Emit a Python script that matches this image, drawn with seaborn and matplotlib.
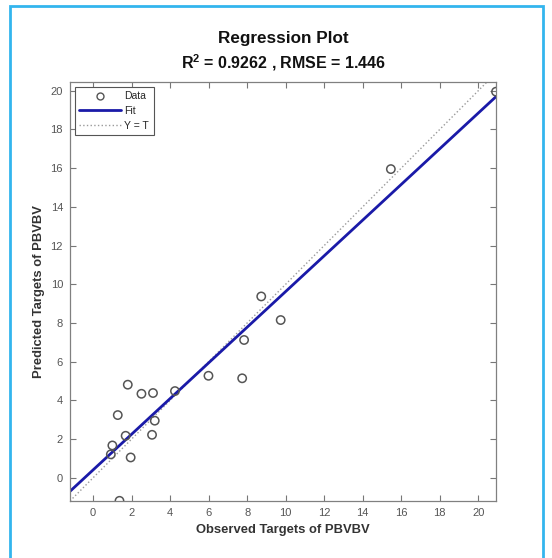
import numpy as np
import pandas as pd
import matplotlib
matplotlib.use("Agg")
import matplotlib.pyplot as plt
from matplotlib.patches import Rectangle
from matplotlib.lines import Line2D
import seaborn as sns

# Data
observed = [0.92, 1.00, 1.37, 1.28, 1.69, 1.80, 1.95, 2.51, 3.06, 3.11,
            3.20, 4.25, 5.99, 7.74, 7.84, 8.73, 9.74, 15.46, 20.92]
predicted = [1.21, 1.67, -1.19, 3.24, 2.17, 4.81, 1.05, 4.34, 2.22, 4.38,
             2.95, 4.48, 5.27, 5.14, 7.12, 9.37, 8.15, 15.95, 19.95]
x_ticks = [0, 2, 4, 6, 8, 10, 12, 14, 16, 18, 20]
y_ticks = [0, 2, 4, 6, 8, 10, 12, 14, 16, 18, 20]
x_limits = [-1.2, 20.92]
y_limits = [-1.2, 20.45]
title_line1 = "Regression Plot"
title_line2 = r"$\mathbf{R^2}$ = 0.9262 , RMSE = 1.446"
x_label = "Observed Targets of PBVBV"
y_label = "Predicted Targets of PBVBV"
legend_labels = ["Data", "Fit", "Y = T"]

df = pd.DataFrame({"obs": observed, "pred": predicted})

sns.set_style("white")
plt.rcParams["font.family"] = ["Liberation Sans", "DejaVu Sans"]
plt.rcParams["mathtext.fontset"] = "custom"
plt.rcParams["mathtext.bf"] = "Liberation Sans:bold"
plt.rcParams["mathtext.rm"] = "Liberation Sans"

fig = plt.figure(figsize=(5.52, 5.58), dpi=100)
fig.patch.set_facecolor("white")
ax = fig.add_axes([70 / 552, 1 - 501 / 558, 426 / 552, 419 / 558])

ax.set_xlim(x_limits)
ax.set_ylim(y_limits)

# Y = T line
yt_line, = ax.plot(x_limits, x_limits, linestyle=":", color="#9a9a9a",
                   linewidth=1.0, zorder=1)

# Fit line
fit_color = "#1a1aa8"
sns.regplot(data=df, x="obs", y="pred", ax=ax, scatter=False, ci=None,
            truncate=False,
            line_kws={"color": fit_color, "linewidth": 2.0, "zorder": 2})

# Data
sns.scatterplot(data=df, x="obs", y="pred", ax=ax, marker="o", s=36,
                facecolor="none", edgecolor="#555555", linewidth=1.1,
                zorder=3, legend=False)

ax.set_xlim(x_limits)
ax.set_ylim(y_limits)
ax.set_xticks(x_ticks)
ax.set_yticks(y_ticks)
ax.tick_params(direction="in", length=4, width=0.8, colors="#777777",
               labelcolor="#555555", labelsize=8, top=True, right=True,
               bottom=True, left=True, pad=5)
for sp in ax.spines.values():
    sp.set_color("#808080")
    sp.set_linewidth(0.9)

ax.set_xlabel(x_label, fontsize=9.4, fontweight="bold", color="#333333",
              labelpad=4)
ax.set_ylabel(y_label, fontsize=9.4, fontweight="bold", color="#333333",
              labelpad=4)

handles = [
    Line2D([], [], linestyle="none", marker="o", markersize=5,
           markerfacecolor="none", markeredgecolor="#555555",
           markeredgewidth=1.0),
    Line2D([], [], color=fit_color, linewidth=2.0),
    Line2D([], [], color="#9a9a9a", linestyle=":", linewidth=1.0),
]
leg = ax.legend(handles, legend_labels,
                loc="upper left", fontsize=7.5, frameon=True, fancybox=False,
                edgecolor="#555555", borderpad=0.45, labelspacing=0.45,
                handlelength=4.0, handletextpad=0.3, borderaxespad=0.45)
leg.get_frame().set_linewidth(0.8)
leg.get_frame().set_alpha(1.0)

cx = (70 + 496) / 2 / 552
fig.text(cx, 1 - 38 / 558, title_line1, ha="center", va="center",
         fontsize=12.3, fontweight="bold", color="#111111")
fig.text(cx, 1 - 63 / 558, title_line2, ha="center", va="center",
         fontsize=11.5, fontweight="bold", color="#111111")

# outer light-blue frame
fig.patches.append(Rectangle((10 / 552, -0.01), 533 / 552, 1 - 6 / 558 + 0.01,
                             transform=fig.transFigure, fill=False,
                             edgecolor="#33b5ee", linewidth=2.0))

fig.savefig("out.png", dpi=100, facecolor="white")
